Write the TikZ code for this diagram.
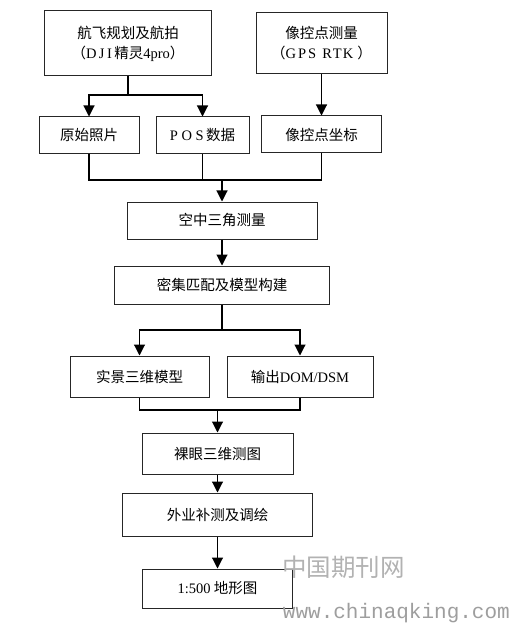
\documentclass[tikz,border=0pt]{standalone}
\usepackage{fontspec}
\setmainfont{Liberation Serif}
\newfontfamily\cjk{Noto Sans CJK SC}
\newfontfamily\wmono{Liberation Mono}
\usetikzlibrary{arrows.meta}
\tikzset{
  box/.style={draw=black!85, line width=1bp, fill=white, inner sep=0pt, align=center,
    font=\fontsize{14.5bp}{20bp}\selectfont\cjk},
  conn/.style={line width=1.1bp, draw=black},
  arr/.style={conn, -{Triangle[width=11bp,length=11bp]}},
}
\begin{document}
\begin{tikzpicture}[x=1bp,y=-1bp]
\useasboundingbox (0,0) rectangle (510,624);
\node[box, minimum width=166bp, minimum height=65bp] (b1) at (128,43.5)
  {航飞规划及航拍\\{\cjk （}{\rmfamily D\,J\,I\,}精灵{\rmfamily 4pro}{\cjk ）}};
\node[box, minimum width=131bp, minimum height=61bp] (b2) at (321.5,43.5)
  {像控点测量\\（{\rmfamily G\hspace{2bp}P\hspace{2bp}S\hspace{6bp}R\hspace{1bp}T\hspace{1bp}K\hspace{4bp}}）};
\node[box, minimum width=100bp, minimum height=37bp] (b3) at (89,135.5) {原始照片};
\node[box, minimum width=93bp, minimum height=37bp] (b4) at (202.5,135.5) {{\rmfamily P O S\,}数据};
\node[box, minimum width=120bp, minimum height=37bp] (b5) at (321.5,134.5) {像控点坐标};
\node[box, minimum width=190bp, minimum height=37bp] (b6) at (222,220.5) {空中三角测量};
\node[box, minimum width=215bp, minimum height=38bp] (b7) at (222,285) {密集匹配及模型构建};
\node[box, minimum width=139bp, minimum height=41bp] (b8) at (139.5,376.5) {实景三维模型};
\node[box, minimum width=146bp, minimum height=41bp] (b9) at (300,376.5) {输出{\rmfamily DOM/DSM}};
\node[box, minimum width=151bp, minimum height=41bp] (b10) at (217.5,453.5) {裸眼三维测图};
\node[box, minimum width=190bp, minimum height=43bp] (b11) at (217.5,514.5) {外业补测及调绘};
\node[box, minimum width=150bp, minimum height=39bp] (b12) at (217.5,588.5) {{\rmfamily 1:500} 地形图};

\coordinate (j1) at (128,95);
\coordinate (j2) at (222,180);
\coordinate (j3) at (222,330);
\coordinate (j4) at (217.5,410);

\draw[conn] (b1.south) -- (j1);
\draw[arr] (j1) -| (b3.north);
\draw[arr] (j1) -| (b4.north);
\draw[arr] (b2.south) -- (b5.north);
\draw[conn] (b3.south) |- (j2);
\draw[conn] (b5.south) |- (j2);
\draw[conn] (b4.south) -- (b4.south |- j2);
\draw[arr] (j2) -- (b6.north);
\draw[arr] (b6.south) -- (b7.north);
\draw[conn] (b7.south) -- (j3);
\draw[arr] (j3) -| (b8.north);
\draw[arr] (j3) -| (b9.north);
\draw[conn] (b8.south) |- (j4);
\draw[conn] (b9.south) |- (j4);
\draw[arr] (j4) -- (b10.north);
\draw[arr] (b10.south) -- (b11.north);
\draw[arr] (b11.south) -- (b12.north);

\node[text=black!30, font=\fontsize{24.5bp}{26bp}\selectfont\cjk, inner sep=0pt, anchor=west] (wm1) at (282,567) {中国期刊网};
\node[text=black!38, font=\fontsize{21bp}{22bp}\selectfont\wmono, inner sep=0pt, anchor=east] (wm2) at (510,613) {www.chinaqking.com};
\end{tikzpicture}
\end{document}
